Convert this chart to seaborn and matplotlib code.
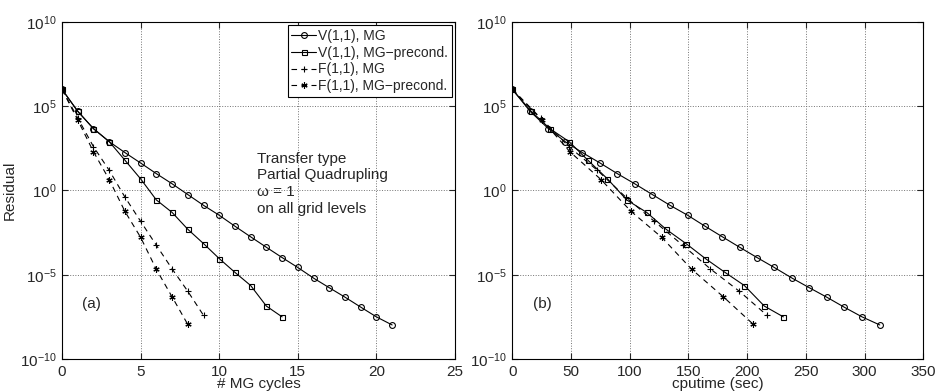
import numpy as np
import pandas as pd
import matplotlib
matplotlib.use("Agg")
import matplotlib.pyplot as plt
import seaborn as sns

# ---- data (log10 of residual) ----
cyc_v_mg = list(range(0, 22))
log_v_mg = [6.0, 4.7, 3.67, 2.9, 2.25, 1.63, 1.0, 0.4, -0.24, -0.88, -1.47,
            -2.12, -2.75, -3.37, -3.98, -4.57, -5.2, -5.77, -6.33, -6.92, -7.5, -7.98]
t_v_mg = [0, 15.1, 30.7, 44.9, 59.6, 74.7, 89.4, 104.2, 119.2, 134.3, 149.3,
          164.1, 178.9, 193.6, 208.4, 223.1, 238.2, 252.9, 267.7, 282.5, 297.8, 312.9]

cyc_v_pc = list(range(0, 15))
log_v_pc = [6.0, 4.7, 3.67, 2.9, 1.8, 0.69, -0.56, -1.3, -2.3, -3.15, -4.04,
            -4.86, -5.64, -6.86, -7.5]
t_v_pc = [0, 16.0, 32.0, 48.3, 64.3, 81.0, 97.4, 114.4, 130.9, 147.9, 164.4,
          181.1, 197.6, 214.6, 230.8]

cyc_f_mg = list(range(0, 10))
log_f_mg = [6.0, 4.3, 2.6, 1.2, -0.39, -1.83, -3.25, -4.65, -5.98, -7.41]
t_f_mg = [0, 24.1, 48.2, 72.4, 96.5, 120.9, 145.1, 168.6, 193.3, 216.9]

cyc_f_pc = list(range(0, 9))
log_f_pc = [6.0, 4.18, 2.3, 0.65, -1.24, -2.78, -4.68, -6.31, -7.95]
t_f_pc = [0, 25.3, 49.0, 75.5, 101.1, 127.2, 152.8, 179.7, 205.3]

labels = ["V(1,1), MG", "V(1,1), MG\u2212precond.", "F(1,1), MG", "F(1,1), MG\u2212precond."]

sns.set_style("ticks")
plt.rcParams['font.family'] = ['Liberation Sans', 'DejaVu Sans']
plt.rcParams['mathtext.fontset'] = 'custom'
plt.rcParams['mathtext.rm'] = 'Liberation Sans'
plt.rcParams['mathtext.it'] = 'Liberation Sans:italic'

fig = plt.figure(figsize=(9.37, 3.92), dpi=100)
ax1 = fig.add_axes([0.0662, 0.0842, 0.4194, 0.8597])
ax2 = fig.add_axes([0.5468, 0.0842, 0.4386, 0.8597])

styles = [
    dict(marker='o', linestyle='-', ms=4.2),
    dict(marker='s', linestyle='-', ms=3.6),
    dict(marker='+', linestyle=(0, (5, 4)), ms=5),
    dict(marker=(6, 2, 0), linestyle=(0, (5, 4)), ms=4.5),
]

def draw(ax, xs_list, ys_list, legend):
    for xs, ys, st, lab in zip(xs_list, ys_list, styles, labels):
        df = pd.DataFrame({"x": xs, "y": [10.0 ** v for v in ys]})
        sns.lineplot(data=df, x="x", y="y", ax=ax, color='k', lw=0.8,
                     marker=st['marker'], ms=st['ms'], mfc='none', mec='k', mew=0.8,
                     linestyle=st['linestyle'], label=lab if legend else None,
                     legend=legend)
    ax.set_yscale('log')
    ax.set_ylim(1e-10, 1e10)
    ax.set_yticks([1e-10, 1e-5, 1e0, 1e5, 1e10])
    ax.set_yticklabels([r'$10^{-10}$', r'$10^{-5}$', r'$10^{0}$', r'$10^{5}$', r'$10^{10}$'])
    ax.yaxis.set_minor_locator(matplotlib.ticker.NullLocator())
    ax.grid(True, linestyle=':', color='0.45', lw=0.7)
    ax.tick_params(direction='in', top=True, right=True, length=4, width=0.8,
                   labelsize=11, pad=4)
    for s in ax.spines.values():
        s.set_visible(True)
        s.set_linewidth(0.8)
        s.set_color('k')

draw(ax1, [cyc_v_mg, cyc_v_pc, cyc_f_mg, cyc_f_pc],
     [log_v_mg, log_v_pc, log_f_mg, log_f_pc], True)
ax1.set_xlim(0, 25)
ax1.set_xticks([0, 5, 10, 15, 20, 25])
ax1.set_xlabel('# MG cycles', fontsize=11, labelpad=-1)
ax1.set_ylabel('Residual', fontsize=11, labelpad=2)
leg = ax1.legend(loc='upper right', fontsize=10, frameon=True, fancybox=False,
                 edgecolor='k', framealpha=1, handlelength=1.8, handletextpad=0.15,
                 borderpad=0.25, labelspacing=0.2, borderaxespad=0.25)
leg.get_frame().set_linewidth(0.8)
ax1.text(12.4, 10 ** 2.3, 'Transfer type\nPartial Quadrupling\n\u03c9 = 1\non all grid levels',
         fontsize=11, va='top', ha='left', linespacing=1.25)
ax1.text(1.3, 10 ** -6.75, '(a)', fontsize=11, va='center', ha='left')

draw(ax2, [t_v_mg, t_v_pc, t_f_mg, t_f_pc],
     [log_v_mg, log_v_pc, log_f_mg, log_f_pc], False)
ax2.set_xlim(0, 350)
ax2.set_xticks([0, 50, 100, 150, 200, 250, 300, 350])
ax2.set_xlabel('cputime (sec)', fontsize=11, labelpad=-1)
ax2.set_ylabel('')
ax2.text(18, 10 ** -6.75, '(b)', fontsize=11, va='center', ha='left')

fig.savefig('out.png', dpi=100)
